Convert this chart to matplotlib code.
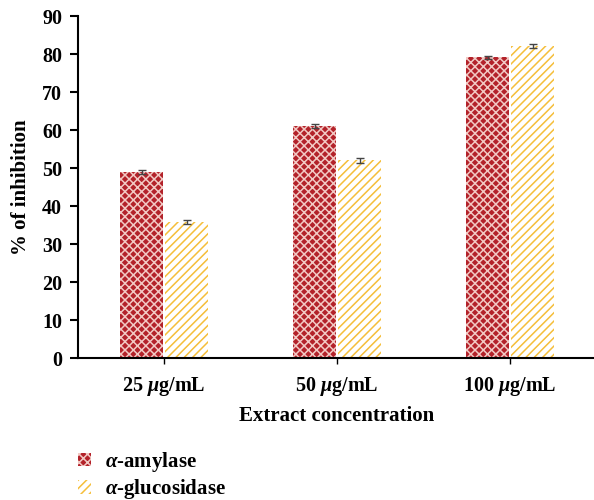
import numpy as np
import matplotlib.pyplot as plt
import matplotlib as mpl

mpl.rcParams['hatch.linewidth'] = 1.1
plt.rcParams['font.family'] = ['Liberation Serif', 'DejaVu Serif']
plt.rcParams['mathtext.fontset'] = 'custom'
plt.rcParams['mathtext.it'] = 'Liberation Serif:italic:bold'

# data
categories = ['25 $\\mu$g/mL', '50 $\\mu$g/mL', '100 $\\mu$g/mL']
amylase = [49.0, 61.0, 79.2]
amylase_err = [0.6, 0.5, 0.4]
glucosidase = [35.8, 52.0, 82.1]
glucosidase_err = [0.5, 0.6, 0.6]

fig = plt.figure(figsize=(5.94, 5.0), dpi=100)
ax = fig.add_axes([0.1305, 0.284, 0.874, 0.684])

x = np.arange(len(categories))
w = 0.25
ax.bar(x - 0.13, amylase, w, color='#B3222A', edgecolor='#F2C9C4', hatch='xxxx',
       linewidth=0, label='$\\alpha$-amylase')
ax.bar(x + 0.13, glucosidase, w, color='white', edgecolor='#F5BE3A', hatch='////',
       linewidth=0, label='$\\alpha$-glucosidase')
ax.errorbar(x - 0.13, amylase, yerr=amylase_err, fmt='none', ecolor='#444444',
            elinewidth=1, capsize=3, capthick=1)
ax.errorbar(x + 0.13, glucosidase, yerr=glucosidase_err, fmt='none', ecolor='#444444',
            elinewidth=1, capsize=3, capthick=1)

ax.set_xlim(-0.5, 2.5)
ax.set_ylim(0, 90)
ax.set_yticks(range(0, 91, 10))
ax.set_xticks(x)
ax.set_xticklabels(categories, fontsize=14.5, fontweight='bold')
ax.tick_params(axis='y', labelsize=14.5, length=6, width=1.5, pad=5)
ax.tick_params(axis='x', length=4, width=1, pad=8)
for lab in ax.get_yticklabels():
    lab.set_fontweight('bold')
ax.spines['top'].set_visible(False)
ax.spines['right'].set_visible(False)
ax.spines['left'].set_linewidth(1.5)
ax.spines['bottom'].set_linewidth(1.5)
ax.set_xlabel('Extract concentration', fontsize=15, fontweight='bold', labelpad=6)
ax.set_ylabel('% of inhibition', fontsize=15, fontweight='bold', labelpad=8)

fig.legend(loc='lower left', bbox_to_anchor=(0.1, -0.04), frameon=False,
           prop={'size': 15, 'weight': 'bold'}, handlelength=0.6, handleheight=0.6,
           handletextpad=0.7, labelspacing=0.15)

plt.savefig('out.png', dpi=100)
